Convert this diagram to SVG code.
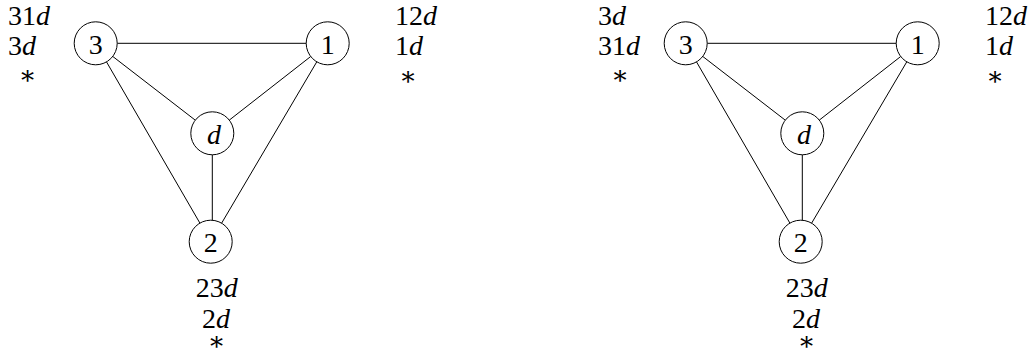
<svg xmlns="http://www.w3.org/2000/svg" width="1032" height="354" viewBox="0 0 1032 354">
<style>
text{font-family:"Liberation Serif","DejaVu Serif",serif;font-size:28px;fill:#000}
.i{font-style:italic}
.n circle{fill:#fff;stroke:#000;stroke-width:1}
.c line{stroke:#000;stroke-width:1}
.m{text-anchor:middle}
.s{font-size:26px}
</style>
<rect width="1032" height="354" fill="#fff"/>
<g id="left">
<g class="c" id="edges-left">
<line x1="117.2" y1="43.3" x2="306.2" y2="43.3"/>
<line x1="112.7" y1="56.4" x2="195.3" y2="120.2"/>
<line x1="310.7" y1="56.5" x2="229.3" y2="120.1"/>
<line x1="106.5" y1="61.9" x2="199.9" y2="223.1"/>
<line x1="316.8" y1="61.8" x2="221.6" y2="223.2"/>
<line x1="212.3" y1="154.8" x2="212.3" y2="220.2"/>
</g>
<g class="n" id="L3"><circle cx="95.7" cy="43.3" r="21.5"/><text class="m" x="95.7" y="53.5">3</text></g>
<g class="n" id="L1"><circle cx="327.7" cy="43.3" r="21.5"/><text class="m" x="327.7" y="53.5">1</text></g>
<g class="n" id="Ld"><circle cx="212.3" cy="133.3" r="21.5"/><text class="m i" x="214" y="144">d</text></g>
<g class="n" id="L2"><circle cx="210.7" cy="241.7" r="21.5"/><text class="m" x="210.7" y="251.8">2</text></g>
<g id="L3lab"><text x="8" y="25">31<tspan class="i">d</tspan></text><text x="8" y="55">3<tspan class="i">d</tspan></text><text class="m s" x="27.7" y="84">∗</text></g>
<g id="L1lab"><text x="395" y="25">12<tspan class="i">d</tspan></text><text x="395" y="55">1<tspan class="i">d</tspan></text><text class="m s" x="408" y="85">∗</text></g>
<g id="L2lab"><text class="m" x="216.7" y="297">23<tspan class="i">d</tspan></text><text class="m" x="216" y="328">2<tspan class="i">d</tspan></text><text class="m s" x="216.7" y="350">∗</text></g>
</g>
<g id="right">
<g class="c" id="edges-right">
<line x1="707.2" y1="43.3" x2="896.2" y2="43.3"/>
<line x1="702.7" y1="56.4" x2="785.3" y2="120.2"/>
<line x1="900.7" y1="56.5" x2="819.3" y2="120.1"/>
<line x1="696.5" y1="61.9" x2="789.9" y2="223.1"/>
<line x1="906.8" y1="61.8" x2="811.6" y2="223.2"/>
<line x1="802.3" y1="154.8" x2="802.3" y2="220.2"/>
</g>
<g class="n" id="R3"><circle cx="685.7" cy="43.3" r="21.5"/><text class="m" x="685.7" y="53.5">3</text></g>
<g class="n" id="R1"><circle cx="917.7" cy="43.3" r="21.5"/><text class="m" x="917.7" y="53.5">1</text></g>
<g class="n" id="Rd"><circle cx="802.3" cy="133.3" r="21.5"/><text class="m i" x="804" y="144">d</text></g>
<g class="n" id="R2"><circle cx="800.7" cy="241.7" r="21.5"/><text class="m" x="800.7" y="251.8">2</text></g>
<g id="R3lab"><text x="598" y="25">3<tspan class="i">d</tspan></text><text x="598" y="55">31<tspan class="i">d</tspan></text><text class="m s" x="620" y="84">∗</text></g>
<g id="R1lab"><text x="985" y="25">12<tspan class="i">d</tspan></text><text x="985" y="55">1<tspan class="i">d</tspan></text><text class="m s" x="995" y="85">∗</text></g>
<g id="R2lab"><text class="m" x="806.7" y="297">23<tspan class="i">d</tspan></text><text class="m" x="806" y="328">2<tspan class="i">d</tspan></text><text class="m s" x="806.7" y="350">∗</text></g>
</g>
</svg>
